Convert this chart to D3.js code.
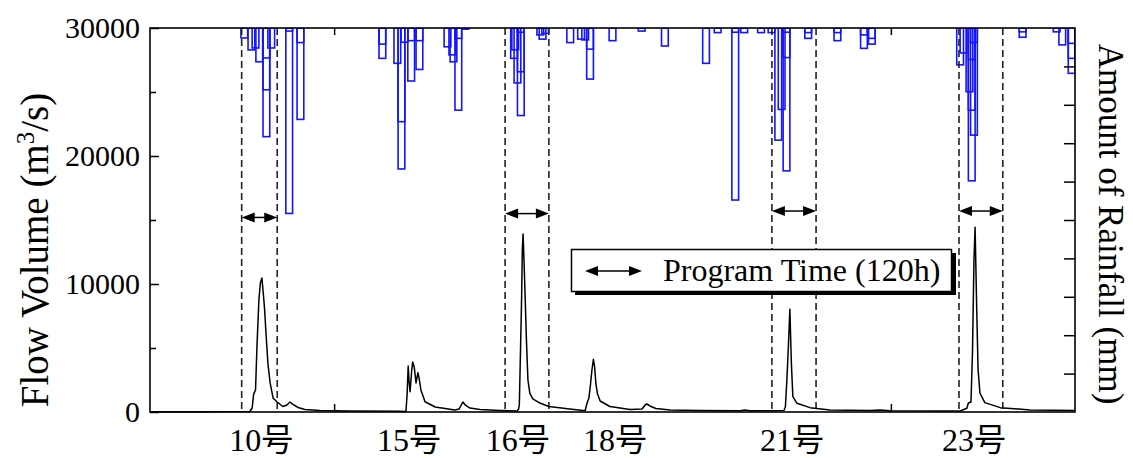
<!DOCTYPE html>
<html><head><meta charset="utf-8">
<script src="https://cdn.jsdelivr.net/npm/d3@7"></script>
<style>body{margin:0;background:#fff} svg{display:block}</style>
</head><body><svg id="c" width="1133" height="458"></svg>
<script>
// ---- data ----
const flowHours = [0,134,267,273,277,282,286,291,295,299,302,306,310,315,321,329,339,355,366,374,382,396,414,454,534,668,681,
  684,687,690,692,695,699,702,706,711,716,719,724,735,762,815,826,836,844,855,882,935,981,
  985,987,990,993,995,997,999,1002,1006,1010,1015,1023,1042,1066,1122,1157,
  1163,1168,1173,1177,1181,1185,1188,1192,1196,1203,1229,1283,1315,1323,1328,1336,1352,1390,1470,1577,1590,1603,
  1694,1698,1702,1706,1710,1714,1718,1729,1764,1817,1924,1951,1978,2165,
  2183,2187,2194,2198,2202,2205,2209,2213,2218,2231,2272,2352,2472];
const flowValues = [15,25,40,310,1400,1720,5230,8750,10080,10470,9530,8130,6170,3830,2270,1090,800,430,550,780,590,350,200,120,80,55,40,
  40,1330,3590,2500,1590,3130,3900,3540,2270,3070,2660,1720,800,390,160,230,780,510,310,200,120,80,
  230,550,4610,8750,12660,13910,12270,9530,5630,2500,1480,1020,700,430,230,120,
  120,700,1090,2110,3280,4120,3590,2110,1410,860,430,200,230,550,625,470,270,160,120,95,160,95,
  120,390,2500,5100,8020,3830,1200,680,340,160,120,160,100,80,
  290,700,780,4610,11870,14430,8520,3280,1480,730,340,160,120];

const rainHours = [243,262,273,283,302,302,302,315,363,363,393,393,
  612,612,652,663,663,671,689,689,711,711,786,799,802,815,815,834,
  964,967,973,982,982,982,1034,1040,1047,
  1114,1143,1154,1167,1167,1227,1305,1367,1477,1508,1555,1555,1579,1624,
  1652,1670,1679,1692,1692,1692,1750,1750,1828,1828,1899,1899,1920,1920,
  2156,2165,2181,2187,2187,2187,2193,2193,2323,2323,2414,2429,2454,2454,2454];
const rainMM = [2.6,5.7,5.2,8.8,28.3,16.1,7.8,5.2,48.3,0.8,23.8,3.8,
  7.9,4.2,9.2,36.7,24.4,3.7,13.8,3.3,10.8,3.3,4.9,7.0,8.8,21.4,2.7,0.3,
  7.9,5.7,14.3,22.8,11.4,1.1,1.8,2.9,1.4,
  3.8,2.9,3.1,13.3,5.5,3.3,0.8,4.7,9.2,1.2,44.8,1.1,1.2,1.2,
  1.2,29.2,21.2,37.2,7.7,1.1,2.7,1.2,3.3,1.2,5.3,1.8,4.2,2.7,
  9.6,6.5,16.6,39.8,21.4,8.2,27.9,3.8,2.4,1.0,1.0,4.4,11.8,7.9,4.0];
const rainBarHours = 18;

const typhoonLabels = ["10号","15号","16号","18号","21号","23号"];
const typhoonLabelHours = [297,692,983,1243,1716,2202];

const programStart = [245,949,1662,2162];
const programEnd   = [340,1066,1780,2279];
const programArrowFlow = [15200,15500,15700,15700];

const flowTicks = [0,10000,20000,30000];
const flowMinorTicks = [5000,15000,25000];
const rainTicks = [10,20,30,40,50,60,70,80,90];
const timeTicks = [492,1980];
const legendText = "Program Time (120h)";

// ---- drawing ----
const L = 150, R = 1075, T = 28, B = 412;
const x = d3.scaleLinear().domain([0,2472]).range([L,R]);
const y = d3.scaleLinear().domain([0,30000]).range([B,T]);
const yr = d3.scaleLinear().domain([0,100]).range([T,B]);
const serif = "'Liberation Serif','Times New Roman','Noto Sans CJK JP',serif";

const svg = d3.select("#c");
svg.append("defs").append("clipPath").attr("id","pc")
  .append("rect").attr("x",L).attr("y",T).attr("width",R-L).attr("height",B-T);

// rainfall bars
const rain = rainHours.map((h,i)=>({h, v: rainMM[i]}));
svg.append("g").attr("clip-path","url(#pc)").selectAll("rect").data(rain).join("rect")
  .attr("x", d=>x(d.h)).attr("y", yr(0))
  .attr("width", x(rainBarHours)-x(0))
  .attr("height", d=>yr(d.v)-yr(0))
  .attr("fill","none").attr("stroke","#1414ff").attr("stroke-width",1.6);

// dashed program windows
const prog = programStart.map((s,i)=>({s, e: programEnd[i], lv: programArrowFlow[i]}));
const gp = svg.append("g");
prog.forEach(p=>{
  [p.s,p.e].forEach(h=>{
    gp.append("line").attr("x1",x(h)).attr("x2",x(h)).attr("y1",T).attr("y2",B)
      .attr("stroke","#222").attr("stroke-width",1.6).attr("stroke-dasharray","7,4");
  });
});

function doubleArrow(g, x1, x2, yy){
  const hl = 13, hw = 5;
  g.append("line").attr("x1",x1+hl-1).attr("x2",x2-hl+1).attr("y1",yy).attr("y2",yy)
    .attr("stroke","#000").attr("stroke-width",1.5);
  g.append("path").attr("d",`M${x1},${yy}L${x1+hl},${yy-hw}L${x1+hl},${yy+hw}Z`).attr("fill","#000");
  g.append("path").attr("d",`M${x2},${yy}L${x2-hl},${yy-hw}L${x2-hl},${yy+hw}Z`).attr("fill","#000");
}
prog.forEach(p=> doubleArrow(gp, x(p.s), x(p.e), y(p.lv)));

// flow line
const flow = flowHours.map((h,i)=>({h, v: flowValues[i]}));
svg.append("path").datum(flow)
  .attr("d", d3.line().x(d=>x(d.h)).y(d=>y(d.v)))
  .attr("fill","none").attr("stroke","#000").attr("stroke-width",1.5).attr("stroke-linejoin","round");

// legend
const lg = svg.append("g");
lg.append("rect").attr("x",575).attr("y",253).attr("width",381).attr("height",42).attr("fill","#000");
lg.append("rect").attr("x",571.5).attr("y",249.5).attr("width",380).attr("height",42)
  .attr("fill","#fff").attr("stroke","#000").attr("stroke-width",1.5);
doubleArrow(lg, 585, 642, 271);
lg.append("text").attr("x",663).attr("y",281).text(legendText)
  .attr("font-family",serif).attr("font-size",32).attr("fill","#000");

// axes
const axL = svg.append("g").attr("transform",`translate(${L},0)`)
  .call(d3.axisLeft(y).tickValues(flowTicks).tickSize(-9).tickPadding(10).tickFormat(d3.format("d")));
const axLm = svg.append("g").attr("transform",`translate(${L},0)`)
  .call(d3.axisLeft(y).tickValues(flowMinorTicks).tickSize(-6).tickFormat(""));
const axR = svg.append("g").attr("transform",`translate(${R},0)`)
  .call(d3.axisRight(yr).tickValues(rainTicks).tickSize(-11).tickFormat(""));
const axB = svg.append("g").attr("transform",`translate(0,${B})`)
  .call(d3.axisBottom(x).tickValues(timeTicks).tickSize(-8).tickFormat(""));
const axT = svg.append("g").attr("transform",`translate(0,${T})`)
  .call(d3.axisTop(x).tickValues(timeTicks).tickSize(-7).tickFormat(""));
[axL,axLm,axR,axB,axT].forEach(a=>{
  a.select(".domain").remove();
  a.selectAll(".tick line").attr("stroke","#000").attr("stroke-width",1.5);
});
axL.selectAll(".tick text").attr("font-family",serif).attr("font-size",30).attr("fill","#000");

// frame
svg.append("rect").attr("x",L).attr("y",T).attr("width",R-L).attr("height",B-T)
  .attr("fill","none").attr("stroke","#000").attr("stroke-width",1.6);

// typhoon labels
svg.append("g").selectAll("text").data(typhoonLabels).join("text")
  .attr("x",(d,i)=>x(typhoonLabelHours[i])).attr("y",451)
  .attr("text-anchor","middle").attr("font-family",serif).attr("font-size",32).attr("fill","#000")
  .text(d=>d);

// axis titles
const tl = svg.append("text").attr("transform","translate(48,250) rotate(-90)")
  .attr("text-anchor","middle").attr("font-family",serif).attr("font-size",39).attr("fill","#000");
tl.append("tspan").text("Flow Volume (m");
tl.append("tspan").text("3").attr("font-size",25).attr("dy",-14);
tl.append("tspan").text("/s)").attr("dy",14);

svg.append("text").attr("transform","translate(1099,224) rotate(90)")
  .attr("text-anchor","middle").attr("font-family",serif).attr("font-size",35).attr("fill","#000")
  .text("Amount of Rainfall (mm)");
</script></body></html>
